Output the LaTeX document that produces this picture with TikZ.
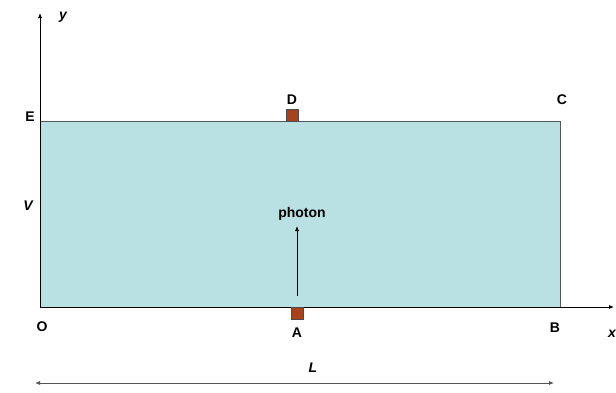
\documentclass[tikz,border=0pt]{standalone}
\usepackage{fontspec}
\setmainfont{Liberation Sans}
\usetikzlibrary{arrows.meta}
\definecolor{water}{HTML}{B9E0E3}
\definecolor{brick}{HTML}{A8421C}
\definecolor{edge}{HTML}{555555}
\tikzset{
  lbl/.style={font=\fontsize{14}{14}\selectfont\bfseries, inner sep=0pt},
  ilbl/.style={font=\fontsize{14}{14}\selectfont\bfseries\itshape, inner sep=0pt},
  axis/.style={draw=black, line width=0.8pt, -{Latex[length=5pt,width=4pt]}},
  detector/.style={draw=black!70, fill=brick, line width=0.4pt, minimum width=12pt, minimum height=12pt, inner sep=0pt},
}
\begin{document}
\begin{tikzpicture}[x=1pt,y=-1pt]
\useasboundingbox (0,0) rectangle (616,392);
% box
\coordinate (O) at (40,307);
\coordinate (Cc) at (560,121);
\fill[water] (O) rectangle (Cc);
\draw[edge, line width=0.8pt] (40,121) -- (560,121) -- (560,307);
% axes
\coordinate (ytop) at (40,13);
\coordinate (xend) at (614,307);
\draw[axis] (O) -- (ytop);
\draw[axis] (O) -- (xend);
% detectors
\node[detector, anchor=south] (dD) at (292,121) {};
\node[detector, anchor=north] (dA) at (297,307) {};
% photon
\coordinate (ph0) at (297,296);
\node[font=\fontsize{14}{14}\selectfont\bfseries, inner sep=0pt] (ph) at (302,214) {photon};
\draw[black, line width=0.7pt, -{Latex[length=5pt,width=4pt]}] (ph0) -- (297,226);
% labels
\node[ilbl] (ly) at (63,17) {y};
\node[lbl] (lE) at (30,117) {E};
\node[lbl] (lD) at (292,100) {D};
\node[lbl] (lC) at (562,100) {C};
\node[ilbl] (lV) at (28,206) {V};
\node[lbl] (lO) at (42,327) {O};
\node[lbl] (lA) at (297,333) {A};
\node[lbl] (lB) at (555,328) {B};
\node[ilbl] (lx) at (612,334) {x};
\node[ilbl] (lL) at (313,368) {L};
% dimension
\coordinate (d1) at (35,383);
\coordinate (d2) at (554,383);
\draw[edge, line width=0.8pt, {Latex[length=5pt,width=4pt]}-{Latex[length=5pt,width=4pt]}] (d1) -- (d2);
\end{tikzpicture}
\end{document}
